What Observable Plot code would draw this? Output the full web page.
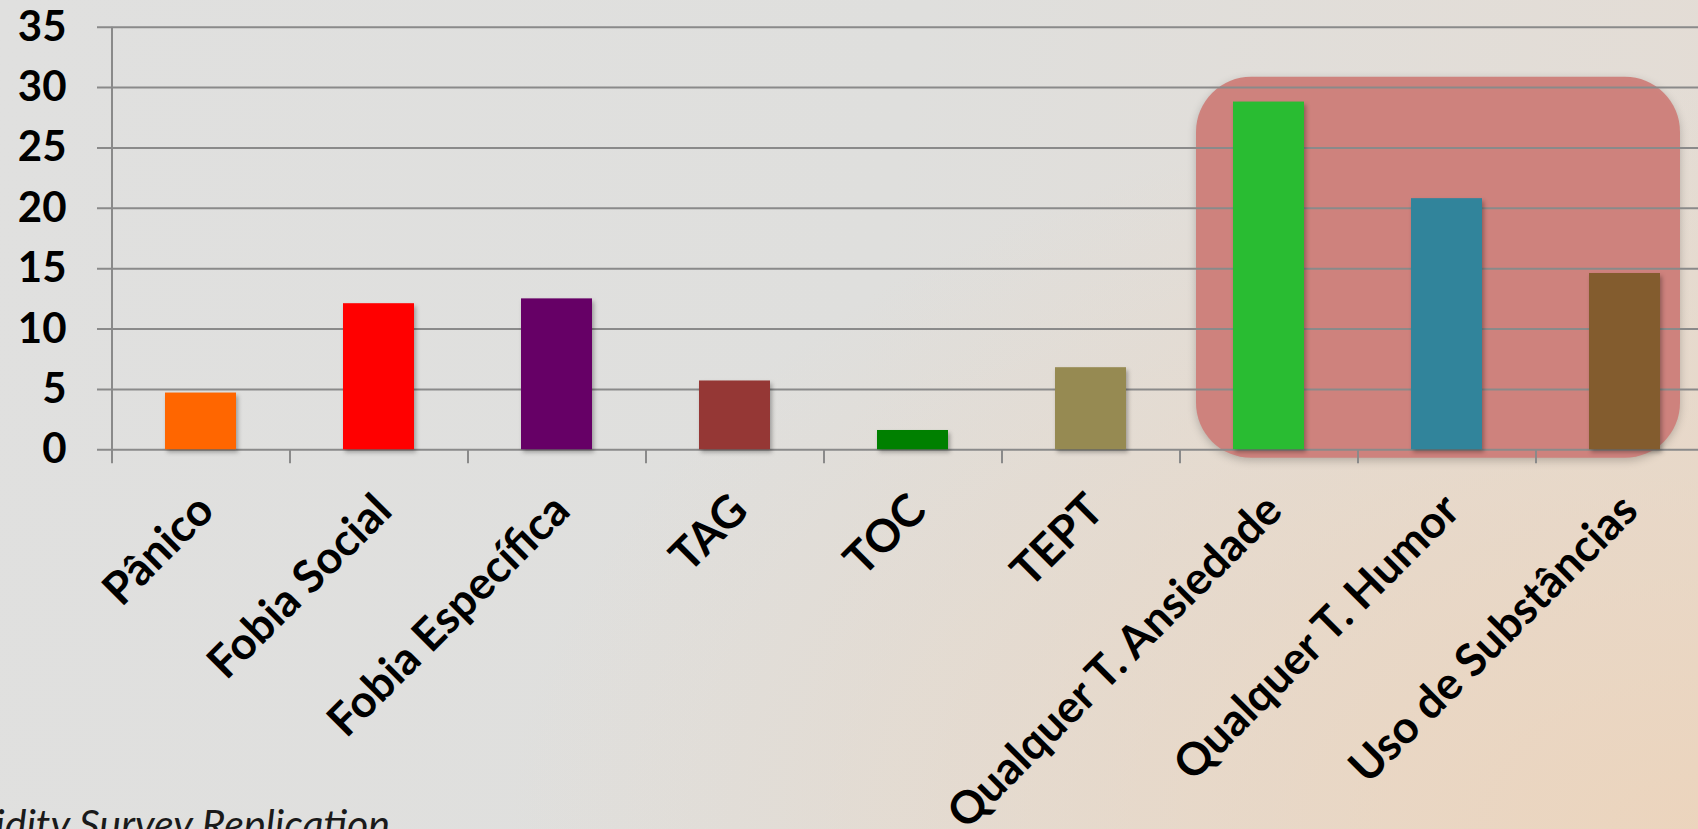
<!DOCTYPE html>
<html><head><meta charset="utf-8">
<script src="https://cdn.jsdelivr.net/npm/d3@7"></script>
<script src="https://cdn.jsdelivr.net/npm/@observablehq/plot@0.6"></script>
<style>
html,body{margin:0;padding:0;width:1698px;height:829px;overflow:hidden;}
body{position:relative;background:
  radial-gradient(ellipse 70% 90% at 100% 100%, rgba(236,212,188,0.95) 0%, rgba(236,212,188,0) 100%),
  linear-gradient(100deg,#e0e0df 0%,#dfdfdd 50%,#e4dcd4 100%);}
#chart{position:absolute;left:0;top:0;}
#caption{position:absolute;right:1308px;top:803px;font:italic 41px/41px Lato,sans-serif;color:#1a1a1a;white-space:nowrap;}
</style></head>
<body><div id="chart"></div><div id="caption"></div>
<script>
const categories = ["Pânico","Fobia Social","Fobia Específica","TAG","TOC","TEPT","Qualquer T. Ansiedade","Qualquer T. Humor","Uso de Substâncias"];
const values = [4.7, 12.1, 12.5, 5.7, 1.6, 6.8, 28.8, 20.8, 14.6];
const colors = ["#ff6600","#ff0000","#660066","#953735","#008000","#968a52","#29bc32","#31849b","#835c2e"];
const yTicks = [0,5,10,15,20,25,30,35];
const highlight = [{cat:"Qualquer T. Humor", y1:-0.7, y2:30.85}];
const captionText = "National Comorbidity Survey Replication";

const data = categories.map((c,i)=>({cat:c, value:values[i], color:colors[i]}));
const W = 1714, ML = 112;
const step = (W - ML) / categories.length;
const gray = "#8a8a8a";

const plot = Plot.plot({
  width: W, height: 829,
  marginLeft: ML, marginRight: 0, marginTop: 26.7, marginBottom: 379.7,
  style: {background:"transparent", maxWidth:"none", fontFamily:"Lato, sans-serif", fontWeight:"bold", fontSize:"42px", color:"#000", overflow:"visible"},
  x: {domain: categories, paddingInner: 0.6, paddingOuter: 0.3, axis: null},
  y: {domain: [0,35], axis: null},
  color: {type: "identity"},
  marks: [
    Plot.barY(highlight, {x:"cat", y1:"y1", y2:"y2", fill:"#cd807b", fillOpacity:0.97, rx:55, insetLeft:-215, insetRight:-198}),
    Plot.ruleY(yTicks, {y:d=>d, stroke:gray, strokeWidth:2, insetLeft:-15}),
    Plot.tickX([categories[0]], {x:d=>d, dx:-step/2, stroke:gray, strokeWidth:2, insetBottom:-14}),
    Plot.tickX(categories.slice(1), {x:d=>d, dx:-step/2, stroke:gray, strokeWidth:2, insetTop:422.6, insetBottom:-14}),
    Plot.barY(data, {x:"cat", y:"value", fill:"color"}),
    Plot.axisY({ticks: yTicks, tickSize:0, tickPadding:46, fill:"#000", fontSize:42, fontWeight:"bold"}),
    Plot.text(data, {x:"cat", y:()=>0, text:"cat", rotate:-45, textAnchor:"end", lineAnchor:"middle", dx:5, dy:53, fill:"#000", fontSize:45, fontWeight:"bold"})
  ]
});
document.getElementById("chart").appendChild(plot);
document.getElementById("caption").textContent = captionText;
const barGroups = plot.querySelectorAll('g[aria-label="bar"]');
if (barGroups[0]) barGroups[0].style.filter = "drop-shadow(0px 3px 4px rgba(0,0,0,0.22))";
if (barGroups[1]) barGroups[1].style.filter = "drop-shadow(2px 3px 2px rgba(0,0,0,0.3))";
</script>
</body></html>
